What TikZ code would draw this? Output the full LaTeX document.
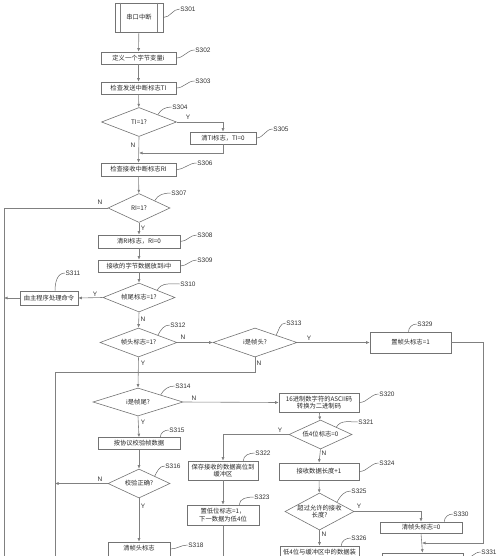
\documentclass[tikz,border=0pt]{standalone}
\usepackage{fontspec}
\setmainfont{Liberation Sans}
\newfontfamily\cjk{Noto Sans CJK SC}
\usetikzlibrary{arrows.meta,shapes.geometric}
\tikzset{
    flow/.style={-{Latex[length=3.5pt, width=3pt]}, line width=0.6pt, black!50},
    plain/.style={line width=0.6pt, black!50},
    box/.style={draw=black!55, line width=0.6pt, rectangle, inner sep=1pt, align=center, font=\cjk\fontsize{6.3}{7.5}\selectfont, text=black!85},
    decision/.style={draw=black!55, line width=0.6pt, diamond, shape aspect=2.5, inner sep=0pt, align=center, font=\cjk\fontsize{6.3}{7.5}\selectfont, text=black!85},
    tag/.style={font=\fontsize{6.5}{7}\selectfont, text=black!80, inner sep=0.5pt},
    tagline/.style={line width=0.5pt, black!60},
    yn/.style={font=\fontsize{6.5}{7}\selectfont, text=black!80, inner sep=0pt}
}

\begin{document}
\begin{tikzpicture}[x=1pt, y=-1pt]
    \useasboundingbox (0,0) rectangle (500,556);
    \clip (0,0) rectangle (500,556);

    % main column
    \node[box, minimum width=48pt, minimum height=29pt] (s301) at (139,17.5) {串口中断};
    \draw[plain] ([xshift=6pt]s301.north west) -- ([xshift=6pt]s301.south west);
    \draw[plain] ([xshift=-6pt]s301.north east) -- ([xshift=-6pt]s301.south east);
    \node[box, minimum width=75pt, minimum height=12pt] (s302) at (138.5,58) {定义一个字节变量i};
    \node[box, minimum width=75pt, minimum height=12pt] (s303) at (138.5,88) {检查发送中断标志TI};
    \node[decision, minimum width=75pt, minimum height=29pt] (s304) at (139,122) {TI=1?};
    \node[box, minimum width=66pt, minimum height=12pt] (s305) at (223,138) {清TI标志，TI=0};
    \node[box, minimum width=75pt, minimum height=13pt] (s306) at (138.5,169.5) {检查接收中断标志RI};
    \node[decision, minimum width=62pt, minimum height=29pt] (s307) at (139,208) {RI=1?};
    \node[box, minimum width=82pt, minimum height=13pt] (s308) at (139,241.5) {清RI标志，RI=0};
    \node[box, minimum width=82pt, minimum height=12pt] (s309) at (139,266) {接收的字节数据放到i中};
    \node[decision, minimum width=72pt, minimum height=29pt] (s310) at (139,297.5) {帧尾标志=1?};
    \node[box, minimum width=58pt, minimum height=14pt] (s311) at (49,298) {由主程序处理命令};
    \node[decision, minimum width=77pt, minimum height=29pt] (s312) at (138.5,342.5) {帧头标志=1?};
    \node[decision, minimum width=84pt, minimum height=29pt] (s313) at (255,342.5) {i是帧头?};
    \node[box, minimum width=81pt, minimum height=21pt] (s329) at (410.5,342.5) {置帧头标志=1};
    \node[decision, minimum width=90pt, minimum height=28pt] (s314) at (138,402) {i是帧尾?};
    \node[box, minimum width=80pt, minimum height=19pt] (s320) at (319,402.5) {16进制数字符的ASCII码\\转换为二进制码};
    \node[box, minimum width=82pt, minimum height=12pt] (s315) at (139,443.5) {按协议校验帧数据};
    \node[decision, minimum width=62pt, minimum height=29pt] (s316) at (139,483.5) {校验正确?};
    \node[box, minimum width=62pt, minimum height=22pt] (s318) at (139,553) {清帧头标志\\\strut};
    \node[decision, minimum width=63pt, minimum height=29pt] (s321) at (320.5,434.5) {低4位标志=0};
    \node[box, minimum width=70pt, minimum height=19pt] (s322) at (223,470.5) {保存接收的数据高位到\\缓冲区};
    \node[box, minimum width=80pt, minimum height=17pt] (s324) at (319,471.5) {接收数据长度+1};
    \node[box, minimum width=72pt, minimum height=20pt] (s323) at (223,515) {置低位标志=1，\\下一数据为低4位};
    \node[decision, shape aspect=1.86, minimum width=69pt, minimum height=37pt] (s325) at (319.5,511.5) {超过允许的接收\\长度?};
    \node[box, minimum width=82pt, minimum height=11pt] (s330) at (421,527.5) {清帧头标志=0};
    \node[box, minimum width=79pt, minimum height=22pt] (s326) at (319.5,557) {低4位与缓冲区中的数据装\\\strut};
    \node[box, minimum width=81pt, minimum height=20pt] (s331) at (422.5,563) {};

    % step tags
    \node[tag] (t301) at (188,9) {S301};
    \node[tag] (t302) at (203,50) {S302};
    \node[tag] (t303) at (203,81) {S303};
    \node[tag] (t304) at (180,107) {S304};
    \node[tag] (t305) at (281,129) {S305};
    \node[tag] (t306) at (205,163) {S306};
    \node[tag] (t307) at (179,193) {S307};
    \node[tag] (t308) at (205,235) {S308};
    \node[tag] (t309) at (205,260) {S309};
    \node[tag] (t310) at (188,284) {S310};
    \node[tag] (t311) at (73,273) {S311};
    \node[tag] (t312) at (178,325) {S312};
    \node[tag] (t313) at (294,323) {S313};
    \node[tag] (t329) at (425,324) {S329};
    \node[tag] (t314) at (183,386) {S314};
    \node[tag] (t320) at (387,394) {S320};
    \node[tag] (t315) at (177,430) {S315};
    \node[tag] (t316) at (173,466) {S316};
    \node[tag] (t318) at (196,545) {S318};
    \node[tag] (t321) at (366,422) {S321};
    \node[tag] (t322) at (263,453) {S322};
    \node[tag] (t324) at (387,463) {S324};
    \node[tag] (t323) at (262,497) {S323};
    \node[tag] (t325) at (359,491) {S325};
    \node[tag] (t330) at (461,514) {S330};
    \node[tag] (t326) at (359,538) {S326};
    \node[tag] (t331) at (489,552) {S331};

    \draw[tagline] (s301.east) to[out=0, in=180] (t301.west);
    \draw[tagline] (s302.east) to[out=0, in=180] (t302.west);
    \draw[tagline] (s303.east) to[out=0, in=180] (t303.west);
    \draw[tagline] (s304.north east) to[out=60, in=180] (t304.west);
    \draw[tagline] (s305.east) to[out=0, in=180] (t305.west);
    \draw[tagline] (s306.east) to[out=0, in=180] (t306.west);
    \draw[tagline] (s307.north east) to[out=60, in=180] (t307.west);
    \draw[tagline] (s308.east) to[out=0, in=180] (t308.west);
    \draw[tagline] (s309.east) to[out=0, in=180] (t309.west);
    \draw[tagline] (s310.north east) to[out=60, in=180] (t310.west);
    \draw[tagline] ([xshift=6pt]s311.north) to[out=90, in=180] (t311.west);
    \draw[tagline] (s312.north east) to[out=60, in=180] (t312.west);
    \draw[tagline] (s313.north east) to[out=60, in=180] (t313.west);
    \draw[tagline] ([xshift=-2pt]s329.north) to[out=90, in=180] (t329.west);
    \draw[tagline] (s314.north east) to[out=60, in=180] (t314.west);
    \draw[tagline] (s320.east) to[out=0, in=180] (t320.west);
    \draw[tagline] ([xshift=-20pt]s315.north east) to[out=90, in=180] (t315.west);
    \draw[tagline] (s316.north east) to[out=60, in=180] (t316.west);
    \draw[tagline] ([yshift=4pt]s318.east) to[out=0, in=180] (t318.west);
    \draw[tagline] (s321.north east) to[out=60, in=180] (t321.west);
    \draw[tagline] ([xshift=-15pt]s322.north east) to[out=90, in=180] (t322.west);
    \draw[tagline] (s324.east) to[out=0, in=180] (t324.west);
    \draw[tagline] ([xshift=-20pt]s323.north east) to[out=90, in=180] (t323.west);
    \draw[tagline] (s325.north east) to[out=60, in=180] (t325.west);
    \draw[tagline] ([xshift=-18pt]s330.north east) to[out=90, in=180] (t330.west);
    \draw[tagline] ([xshift=-18pt]s326.north east) to[out=90, in=180] (t326.west);
    \draw[tagline] ([yshift=-7pt]s331.north east) to[out=0, in=180] (t331.west);

    % rails and joints
    \coordinate (railL) at (4,208);
    \coordinate (railLend) at (4,560);
    \coordinate (railM) at (55,372.5);
    \coordinate (railMend) at (55,560);
    \coordinate (back305) at (139,153);
    \coordinate (railR) at (483,543);
    \coordinate (join) at (422,543);
    \coordinate (end323) at (223,560);

    % connectors
    \draw[flow] (s301) -- (s302);
    \draw[flow] (s302) -- (s303);
    \draw[flow] (s303) -- (s304);
    \draw[flow] (s304.east) -| (s305.north);
    \draw[flow] (s305.south) |- (back305);
    \draw[flow] (s304.south) -- (s306.north);
    \draw[flow] (s306) -- (s307);
    \draw[plain] (s307.west) -- (railL) -- (railLend);
    \draw[flow] (s307.south) -- (s308.north);
    \draw[flow] (s308) -- (s309);
    \draw[flow] (s309) -- (s310);
    \draw[flow] (s310.west) -- (s311.east);
    \draw[flow] (s311.west) -- (s311.west -| railL);
    \draw[flow] (s310.south) -- (s312.north);
    \draw[flow] (s312.east) -- (s313.west);
    \draw[flow] (s313.east) -- (s329.west);
    \draw[flow] (s329.east) -| (railR) -- (join);
    \draw[plain] (s313.south) |- (railM) -- (railMend);
    \draw[flow] (s312.south) -- (s314.north);
    \draw[flow] (s314.east) -- (s320.west);
    \draw[flow] (s314.south) -- (s315.north);
    \draw[flow] (s315) -- (s316);
    \draw[flow] (s316.west) -- (s316.west -| railM);
    \draw[flow] (s316.south) -- (s318.north);
    \draw[flow] (s320) -- (s321);
    \draw[flow] (s321.west) -| (s322.north);
    \draw[flow] (s321.south) -- (s324.north);
    \draw[flow] (s322) -- (s323);
    \draw[plain] (s323.south) -- (end323);
    \draw[flow] (s324) -- (s325);
    \draw[flow] (s325.east) -| (s330.north);
    \draw[flow] (s325.south) -- (s326.north);
    \draw[flow] (s330.south) -- (s331.north);

    % branch letters
    \node[yn] (y304) at (188,117) {Y};
    \node[yn] (n304) at (133,145) {N};
    \node[yn] (n307) at (100,202) {N};
    \node[yn] (y307) at (143,228) {Y};
    \node[yn] (y310) at (95,294) {Y};
    \node[yn] (n310) at (143,319) {N};
    \node[yn] (n312) at (183,337) {N};
    \node[yn] (y312) at (143,363) {Y};
    \node[yn] (y313) at (309,338) {Y};
    \node[yn] (n313) at (259,363) {N};
    \node[yn] (n314) at (194,398) {N};
    \node[yn] (y314) at (143,422) {Y};
    \node[yn] (n316) at (100,479) {N};
    \node[yn] (y316) at (143,506) {Y};
    \node[yn] (y321) at (280,430) {Y};
    \node[yn] (n321) at (324,453) {N};
    \node[yn] (y325) at (359,506) {Y};
    \node[yn] (n325) at (324,534) {N};
\end{tikzpicture}
\end{document}
